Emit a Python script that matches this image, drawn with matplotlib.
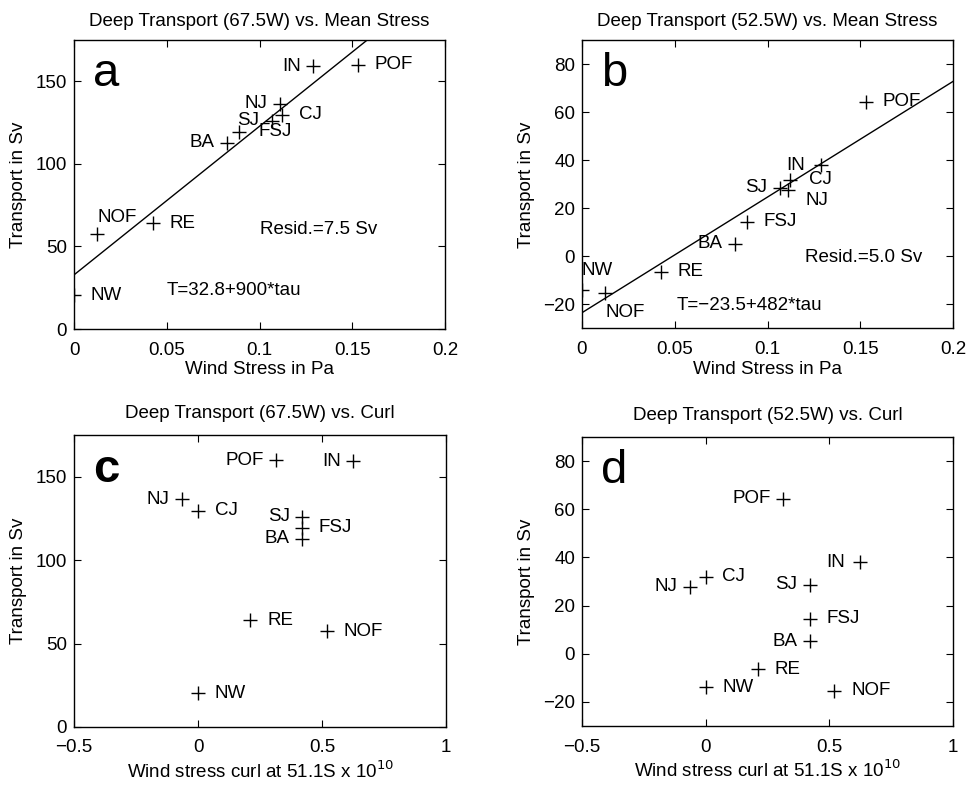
"""
Deep transport vs. wind stress and wind stress curl (four panels).
"""
import matplotlib
matplotlib.use('Agg')
import matplotlib.pyplot as plt
import numpy as np

plt.rcParams['font.family'] = ['Liberation Sans', 'DejaVu Sans']

stations = ['NW', 'NOF', 'RE', 'BA', 'FSJ', 'SJ', 'NJ', 'CJ', 'IN', 'POF']
mean_stress = [0.0, 0.0125, 0.0424, 0.0825, 0.0888, 0.1065, 0.1108, 0.112, 0.129, 0.153]
curl = [0.0, 0.52, 0.211, 0.42, 0.42, 0.42, -0.065, 0.0, 0.625, 0.314]
transport_675 = [20.3, 57.5, 64.0, 112.7, 119.3, 126.0, 136.4, 129.7, 159.2, 160.0]
transport_525 = [-14.0, -15.4, -6.5, 5.2, 14.5, 28.6, 27.8, 32.0, 38.0, 64.3]

fit_675 = (32.8, 900.0)
fit_525 = (-23.5, 482.0)

# label offsets in points (dx, dy, ha) per panel
R = (12, 0, 'left')
L = (-9, 0, 'right')
offsets_a = {'NW': R, 'NOF': (0, 12, 'left'), 'RE': R, 'BA': L, 'FSJ': (14, 0, 'left'),
             'SJ': L, 'NJ': L, 'CJ': R, 'IN': L, 'POF': R}
offsets_b = {'NW': (0, 14, 'left'), 'NOF': (0, -14, 'left'), 'RE': R, 'BA': L,
             'FSJ': R, 'SJ': L, 'NJ': (13, -8, 'left'), 'CJ': (14, 0, 'left'),
             'IN': (-12, 0, 'right'), 'POF': R}
offsets_c = {'NW': R, 'NOF': R, 'RE': R, 'BA': L, 'FSJ': R, 'SJ': L,
             'NJ': L, 'CJ': R, 'IN': L, 'POF': L}
offsets_d = {'NW': R, 'NOF': R, 'RE': R, 'BA': L, 'FSJ': R, 'SJ': L,
             'NJ': L, 'CJ': R, 'IN': (-11, 0, 'right'), 'POF': L}

FS = 13.5

fig = plt.figure(figsize=(9.69, 7.86), dpi=100)
ax_a = fig.add_axes([0.0764, 0.5814, 0.383, 0.3677])
ax_b = fig.add_axes([0.6006, 0.5823, 0.383, 0.3664])
ax_c = fig.add_axes([0.0764, 0.0751, 0.384, 0.3715])
ax_d = fig.add_axes([0.6006, 0.0763, 0.383, 0.3677])


def draw_panel(ax, x, y, offsets, letter, bold=False):
    ax.plot(x, y, '+', color='k', markersize=10, markeredgewidth=1.0)
    for name, xi, yi in zip(stations, x, y):
        dx, dy, ha = offsets[name]
        ax.annotate(name, (xi, yi), xytext=(dx, dy), textcoords='offset points',
                    ha=ha, va='center', fontsize=FS)
    ax.text(0.051, 0.84, letter, transform=ax.transAxes, fontsize=34,
            fontweight='bold' if bold else 'normal', va='baseline', ha='left')
    ax.tick_params(direction='in', top=True, right=True, length=5,
                   labelsize=FS, width=0.8, pad=5)
    ax.tick_params(axis='x', pad=9)
    for sp in ax.spines.values():
        sp.set_linewidth(1.0)


# panel a
draw_panel(ax_a, mean_stress, transport_675, offsets_a, 'a')
xs = np.array([0.0, 0.2])
ax_a.plot(xs, fit_675[0] + fit_675[1] * xs, color='k', linewidth=1.0)
ax_a.set_xlim(0, 0.2)
ax_a.set_ylim(0, 175)
ax_a.set_xticks([0, 0.05, 0.1, 0.15, 0.2])
ax_a.set_xticklabels(['0', '0.05', '0.1', '0.15', '0.2'])
ax_a.set_yticks([0, 50, 100, 150])
ax_a.text(0.1003, 60, 'Resid.=7.5 Sv', fontsize=FS, va='center')
ax_a.text(0.05, 23.4, 'T=32.8+900*tau', fontsize=FS, va='center')
ax_a.set_title('Deep Transport (67.5W) vs. Mean Stress', fontsize=FS, pad=10)
ax_a.set_xlabel('Wind Stress in Pa', fontsize=FS, labelpad=2)
ax_a.set_ylabel('Transport in Sv', fontsize=FS, labelpad=6)

# panel b
draw_panel(ax_b, mean_stress, transport_525, offsets_b, 'b')
ax_b.plot(xs, fit_525[0] + fit_525[1] * xs, color='k', linewidth=1.0)
ax_b.set_xlim(0, 0.2)
ax_b.set_ylim(-30, 90)
ax_b.set_xticks([0, 0.05, 0.1, 0.15, 0.2])
ax_b.set_xticklabels(['0', '0.05', '0.1', '0.15', '0.2'])
ax_b.set_yticks([-20, 0, 20, 40, 60, 80])
ax_b.set_yticklabels(['\u221220', '0', '20', '40', '60', '80'])
ax_b.text(0.1204, -0.3, 'Resid.=5.0 Sv', fontsize=FS, va='center')
ax_b.text(0.051, -20.4, 'T=\u221223.5+482*tau', fontsize=FS, va='center')
ax_b.set_title('Deep Transport (52.5W) vs. Mean Stress', fontsize=FS, pad=10)
ax_b.set_xlabel('Wind Stress in Pa', fontsize=FS, labelpad=2)
ax_b.set_ylabel('Transport in Sv', fontsize=FS, labelpad=6)

# panel c
draw_panel(ax_c, curl, transport_675, offsets_c, 'c', bold=True)
ax_c.set_xlim(-0.5, 1)
ax_c.set_ylim(0, 175)
ax_c.set_xticks([-0.5, 0, 0.5, 1])
ax_c.set_xticklabels(['\u22120.5', '0', '0.5', '1'])
ax_c.set_yticks([0, 50, 100, 150])
ax_c.set_title('Deep Transport (67.5W) vs. Curl', fontsize=FS, pad=12)
ax_c.set_xlabel('Wind stress curl at 51.1S x 10$^{10}$', fontsize=FS, labelpad=3)
ax_c.set_ylabel('Transport in Sv', fontsize=FS, labelpad=6)

# panel d
draw_panel(ax_d, curl, transport_525, offsets_d, 'd')
ax_d.set_xlim(-0.5, 1)
ax_d.set_ylim(-30, 90)
ax_d.set_xticks([-0.5, 0, 0.5, 1])
ax_d.set_xticklabels(['\u22120.5', '0', '0.5', '1'])
ax_d.set_yticks([-20, 0, 20, 40, 60, 80])
ax_d.set_yticklabels(['\u221220', '0', '20', '40', '60', '80'])
ax_d.set_title('Deep Transport (52.5W) vs. Curl', fontsize=FS, pad=12)
ax_d.set_xlabel('Wind stress curl at 51.1S x 10$^{10}$', fontsize=FS, labelpad=3)
ax_d.set_ylabel('Transport in Sv', fontsize=FS, labelpad=6)

fig.savefig('out.png', dpi=100)
